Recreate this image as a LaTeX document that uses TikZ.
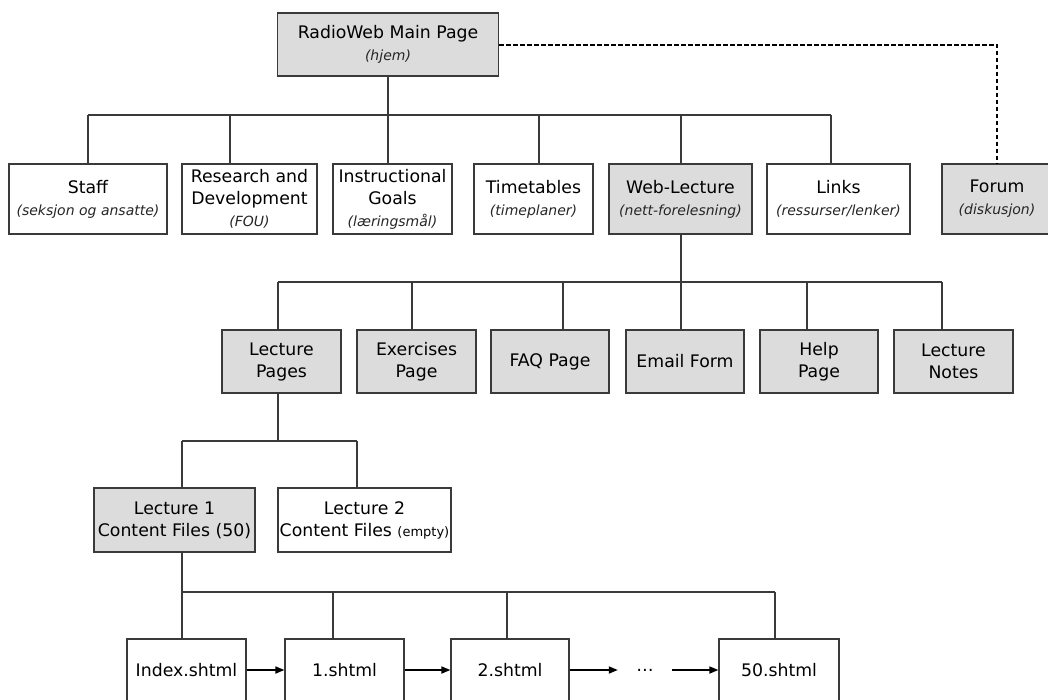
\documentclass[tikz,border=0pt]{standalone}
\usepackage{fontspec}
\setmainfont{DejaVu Sans}
\usetikzlibrary{arrows.meta}
\definecolor{boxgray}{HTML}{DCDCDC}
\definecolor{edge}{HTML}{3A3A3A}
\newcommand\subtitle[1]{{\fontsize{14}{20}\selectfont\itshape\color{black!85}#1}}
\newcommand\smallnote[1]{{\fontsize{13}{20}\selectfont #1}}

\begin{document}
\begin{tikzpicture}[x=1pt,y=-1pt,
  page/.style={draw=edge, line width=1.2pt, fill=white, inner sep=0pt,
    align=center, font=\fontsize{17.3}{22}\selectfont},
  shaded/.style={page, fill=boxgray},
  link/.style={draw=edge, line width=1.2pt},
  dashlink/.style={draw=black, line width=2pt, dash pattern=on 4.5pt off 2.5pt},
  flow/.style={draw=black, line width=1.6pt, -{Triangle[length=9pt,width=7pt]}}
]
\useasboundingbox (0,0) rectangle (1048,699);

% top level
\node[shaded, minimum width=221pt, minimum height=63pt] (main) at (388,44.5)
  {RadioWeb Main Page\\\subtitle{(hjem)}};

% first level
\node[page, minimum width=158pt, minimum height=70pt] (staff) at (88,199)
  {Staff\\\subtitle{(seksjon og ansatte)}};
\node[page, minimum width=135pt, minimum height=70pt] (rd) at (249.5,199)
  {Research and\\Development\\\subtitle{(FOU)}};
\node[page, minimum width=119pt, minimum height=70pt] (instr) at (392.5,199)
  {Instructional\\Goals\\\subtitle{(læringsmål)}};
\node[page, minimum width=119pt, minimum height=70pt] (time) at (533.5,199)
  {Timetables\\\subtitle{(timeplaner)}};
\node[shaded, minimum width=143pt, minimum height=70pt] (web) at (680.5,199)
  {Web-Lecture\\\subtitle{(nett-forelesning)}};
\node[page, minimum width=143pt, minimum height=70pt] (links) at (838.5,199)
  {Links\\\subtitle{(ressurser/lenker)}};
\node[shaded, minimum width=110pt, minimum height=70pt] (forum) at (997,199)
  {Forum\\\subtitle{(diskusjon)}};

% second level
\node[shaded, minimum width=119pt, minimum height=63pt] (lp) at (281.5,361.5)
  {Lecture\\Pages};
\node[shaded, minimum width=119pt, minimum height=63pt] (ex) at (416.5,361.5)
  {Exercises\\Page};
\node[shaded, minimum width=118pt, minimum height=63pt] (faq) at (550,361.5)
  {FAQ Page};
\node[shaded, minimum width=118pt, minimum height=63pt] (email) at (685,361.5)
  {Email Form};
\node[shaded, minimum width=118pt, minimum height=63pt] (help) at (819,361.5)
  {Help\\Page};
\node[shaded, minimum width=119pt, minimum height=63pt] (notes) at (953.5,361.5)
  {Lecture\\Notes};

% lecture content folders
\node[shaded, minimum width=161pt, minimum height=64pt] (l1) at (174.5,520)
  {Lecture 1\\Content Files (50)};
\node[page, minimum width=173pt, minimum height=64pt] (l2) at (364.5,520)
  {Lecture 2\\Content Files \smallnote{(empty)}};

% content files
\node[page, minimum width=119pt, minimum height=62pt] (idx) at (186.5,670) {Index.shtml};
\node[page, minimum width=119pt, minimum height=62pt] (f1) at (344.5,670) {1.shtml};
\node[page, minimum width=118pt, minimum height=62pt] (f2) at (510,670) {2.shtml};
\node[inner sep=0pt, minimum width=54pt, minimum height=20pt,
  font=\fontsize{17.3}{22}\selectfont] (dots) at (645,670) {\dots};
\node[page, minimum width=120pt, minimum height=62pt] (f50) at (779,670) {50.shtml};

% bus from the main page
\coordinate (b-staff) at (88,115);
\coordinate (b-rd) at (230,115);
\coordinate (b-instr) at (388,115);
\coordinate (b-time) at (539,115);
\coordinate (b-web) at (681,115);
\coordinate (b-links) at (831,115);
\draw[link] (main.south) -- (b-instr);
\draw[link] (b-staff) -- (b-links);
\draw[link] (b-staff) -- (staff.north);
\draw[link] (b-rd) -- (b-rd |- rd.north);
\draw[link] (b-instr) -- (b-instr |- instr.north);
\draw[link] (b-time) -- (b-time |- time.north);
\draw[link] (b-web) -- (b-web |- web.north);
\draw[link] (b-links) -- (b-links |- links.north);

% forum link
\coordinate (fc) at (997,44.5);
\draw[dashlink] (main.east) -- (fc) -- (forum.north);

% bus from the web lecture
\coordinate (w-top) at (681,282);
\coordinate (w-lp) at (278,282);
\coordinate (w-ex) at (412,282);
\coordinate (w-faq) at (563,282);
\coordinate (w-help) at (807,282);
\coordinate (w-notes) at (942,282);
\draw[link] (w-top |- web.south) -- (w-top);
\draw[link] (w-lp) -- (w-notes);
\draw[link] (w-lp) -- (w-lp |- lp.north);
\draw[link] (w-ex) -- (w-ex |- ex.north);
\draw[link] (w-faq) -- (w-faq |- faq.north);
\draw[link] (w-top) -- (w-top |- email.north);
\draw[link] (w-help) -- (w-help |- help.north);
\draw[link] (w-notes) -- (w-notes |- notes.north);

% bus from the lecture pages
\coordinate (p-top) at (278,441);
\coordinate (p-l1) at (182,441);
\coordinate (p-l2) at (357,441);
\draw[link] (p-top |- lp.south) -- (p-top);
\draw[link] (p-l1) -- (p-l2);
\draw[link] (p-l1) -- (p-l1 |- l1.north);
\draw[link] (p-l2) -- (p-l2 |- l2.north);

% bus from lecture 1
\coordinate (c-idx) at (182,592);
\coordinate (c-f1) at (333,592);
\coordinate (c-f2) at (507,592);
\coordinate (c-f50) at (775,592);
\draw[link] (c-idx |- l1.south) -- (c-idx);
\draw[link] (c-idx) -- (c-f50);
\draw[link] (c-idx) -- (c-idx |- idx.north);
\draw[link] (c-f1) -- (c-f1 |- f1.north);
\draw[link] (c-f2) -- (c-f2 |- f2.north);
\draw[link] (c-f50) -- (c-f50 |- f50.north);

% reading order of the content files
\draw[flow] (idx.east) -- (f1.west);
\draw[flow] (f1.east) -- (f2.west);
\draw[flow] (f2.east) -- (dots.west);
\draw[flow] (dots.east) -- (f50.west);
\end{tikzpicture}
\end{document}
